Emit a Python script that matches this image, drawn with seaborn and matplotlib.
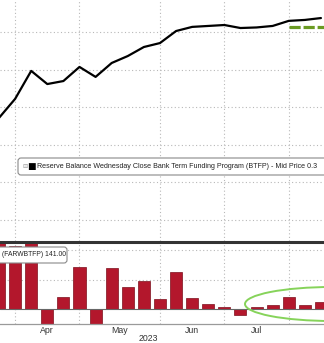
import numpy as np
import pandas as pd
import matplotlib
matplotlib.use("Agg")
import matplotlib.pyplot as plt
import matplotlib.transforms as mtrans
import seaborn as sns
from matplotlib.patches import Ellipse, FancyBboxPatch

# ---------------- data ----------------
week_dates = ["2023-03-22", "2023-03-29", "2023-04-05", "2023-04-12", "2023-04-19",
              "2023-04-26", "2023-05-03", "2023-05-10", "2023-05-17", "2023-05-24",
              "2023-05-31", "2023-06-07", "2023-06-14", "2023-06-21", "2023-06-28",
              "2023-07-05", "2023-07-12", "2023-07-19", "2023-07-26", "2023-08-02",
              "2023-08-09"]
btfp_balance = [54.3, 64.4, 79.3, 72.3, 73.9, 81.4, 76.1, 83.5, 87.2, 92.0, 94.1,
                100.5, 102.7, 103.2, 103.7, 102.1, 102.4, 103.2, 105.9, 106.4, 107.4]
weekly_change = [41.8, 10.7, 14.6, -7.2, 2.0, 7.1, -5.4, 7.0, 3.7, 4.8, 1.7,
                 6.3, 1.9, 0.8, 0.3, -1.0, 0.3, 0.7, 2.0, 0.6, 1.2]
ref_dates = ["2023-07-26", "2023-08-16"]
ref_level = [102.4, 102.4]
month_names = ["Apr", "May", "Jun", "Jul"]
year_label = "2023"
legend_text = "Reserve Balance Wednesday Close Bank Term Funding Program (BTFP) - Mid Price 0.3"
lower_label = "(FARWBTFP) 141.00"

# ---------------- prep ----------------
dates = pd.to_datetime(week_dates)
t0 = dates[0]
def week_index(d):
    return (pd.to_datetime(d) - t0).days / 7.0

idx = np.array([week_index(d) for d in dates])
df = pd.DataFrame({"week": idx, "balance": btfp_balance, "change": weekly_change})
ref_df = pd.DataFrame({"week": [week_index(d) for d in ref_dates], "level": ref_level})

# month boundaries: last Wednesday of each month (Mar..Jul)
months = dates.to_period("M")
bounds = []
for m in ["2023-03", "2023-04", "2023-05", "2023-06", "2023-07"]:
    sel = idx[months == pd.Period(m)]
    bounds.append(sel.max())
label_pos = [(bounds[i] + bounds[i + 1]) / 2 for i in range(len(bounds) - 1)]

# ---------------- figure ----------------
sns.set_style("white")
plt.rcParams["font.family"] = ["Liberation Sans", "DejaVu Sans"]
W, H = 324, 343
fig = plt.figure(figsize=(W / 100, H / 100), dpi=100)
ident = mtrans.IdentityTransform()

def frac_box(top_px, bot_px):
    return [0, (H - bot_px) / H, 1, (bot_px - top_px) / H]

def fy(px_from_top):
    return (H - px_from_top) / H

ax1 = fig.add_axes(frac_box(0, 241))
ax2 = fig.add_axes(frac_box(242, 324))

xlim = (0.062, 20.19)
grid_kw = dict(color="#b8b8b8", lw=0.8, ls=(0, (1, 2.2)))

# top panel
ax1.set_xlim(*xlim)
ax1.set_ylim(-11.17, 117.0)
for v in [0, 20, 40, 60, 80, 100]:
    ax1.axhline(v, zorder=0, **grid_kw)
for b in bounds:
    ax1.axvline(b, zorder=0, **grid_kw)
sns.lineplot(data=df, x="week", y="balance", ax=ax1, color="black", lw=1.6, zorder=3)
sns.lineplot(data=ref_df, x="week", y="level", ax=ax1, color="#6a9a22", lw=2.3,
             zorder=2)
ax1.lines[-1].set_dashes((3.5, 0.9))
ax1.lines[-1].set_dash_capstyle("butt")
for s in ax1.spines.values():
    s.set_visible(False)
ax1.set_xticks([]); ax1.set_yticks([])
ax1.set_xlabel(""); ax1.set_ylabel("")

# legend box in top panel
box = FancyBboxPatch((18, H - 175), 330, 17, boxstyle="round,pad=0,rounding_size=3",
                     fc="white", ec="#8a8a8a", lw=0.8, zorder=5)
ax1.add_patch(box)
box.set_transform(ident)
fig.text(22 / W, fy(166.5), "\u229f", fontsize=4.5, color="#999999",
         va="center", ha="left", family="DejaVu Sans", zorder=6)
fig.text(27.5 / W, fy(166.5), "\u25a0", fontsize=6.5, color="black",
         va="center", ha="left", family="DejaVu Sans", zorder=6)
fig.text(37 / W, fy(166.5), legend_text, fontsize=5.1, color="#222222",
         va="center", ha="left", zorder=6)

# bottom panel
ax2.set_xlim(*xlim)
ax2.set_ylim(-2.54, 11.36)
for v in [5, 10]:
    ax2.axhline(v, zorder=0, **grid_kw)
for b in bounds:
    ax2.axvline(b, zorder=0, **grid_kw)
sns.barplot(data=df, x="week", y="change", ax=ax2, native_scale=True, width=0.75,
            color="#b3172c", saturation=1, edgecolor="#7d0f1c", linewidth=0.5,
            zorder=2)
ax2.axhline(0, color="#666666", lw=0.8, zorder=3)
for name, s in ax2.spines.items():
    s.set_visible(name in ("top", "bottom"))
ax2.spines["top"].set_color("#333333")
ax2.spines["top"].set_linewidth(2.2)
ax2.spines["bottom"].set_color("#9a9a9a")
ax2.spines["bottom"].set_linewidth(0.9)
ax2.set_yticks([])
ax2.set_xticks(bounds)
ax2.set_xticklabels([])
ax2.tick_params(axis="x", length=3, width=0.6, color="#888888", direction="out", pad=0)
ax2.set_xticks(label_pos, minor=True)
ax2.set_xticklabels(month_names, minor=True)
ax2.tick_params(axis="x", which="minor", length=0, labelsize=6.3, labelcolor="#333333", pad=1.5)
ax2.set_xlabel("")
ax2.set_ylabel("")
fig.text(148 / W, fy(338.5), year_label, fontsize=6.3, color="#333333",
         ha="center", va="center")

# highlight ellipse
ell = Ellipse((332, H - 304), 174, 34, fill=False, ec="#86d35a", lw=1.4, zorder=6)
ax2.add_patch(ell)
ell.set_transform(ident)
ell.set_clip_on(False)

# label box in bottom panel
lb = FancyBboxPatch((-6, H - 263), 73, 16, boxstyle="round,pad=0,rounding_size=3",
                    fc="white", ec="#8a8a8a", lw=0.8, zorder=7)
ax2.add_patch(lb)
lb.set_transform(ident)
lb.set_clip_on(False)
fig.text(2 / W, fy(255), lower_label, fontsize=4.9, color="#222222",
         va="center", ha="left", zorder=8)

fig.savefig("out.png", dpi=100)
